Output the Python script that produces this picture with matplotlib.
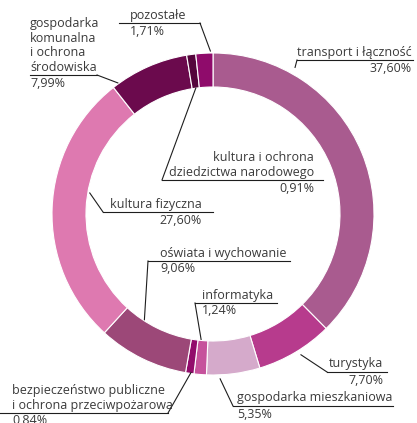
import matplotlib
matplotlib.use('Agg')
import matplotlib.pyplot as plt
import numpy as np

# ---- data ----
categories = [
    'transport i łączność',
    'turystyka',
    'gospodarka mieszkaniowa',
    'informatyka',
    'bezpieczeństwo publiczne\ni ochrona przeciwpożarowa',
    'oświata i wychowanie',
    'kultura fizyczna',
    'gospodarka\nkomunalna\ni ochrona\nśrodowiska',
    'kultura i ochrona\ndziedzictwa narodowego',
    'pozostałe',
]
shares = [37.60, 7.70, 5.35, 1.24, 0.84, 9.06, 27.60, 7.99, 0.91, 1.71]
colors = ['#A95B8F', '#B73B8D', '#D5AACB', '#C6529C', '#920C6C',
          '#9C4878', '#DE79B0', '#6B0A4D', '#55053C', '#8F0B6B']

# ---- layout (pixel coordinates, y from top) ----
# text x, text ha, underline x-range, underline y, leader side, anchor fraction, anchor radius
layout = [
    dict(tx=412, ha='right', ul=(297, 413), uy=60, side='left', f=0.216, r=168),
    dict(tx=383, ha='right', ul=(327, 387), uy=372, side='left', f=0.456, r=166),
    dict(tx=237, ha='left', ul=(233, 393), uy=406, side='left', f=0.75, r=165),
    dict(tx=202, ha='left', ul=(195, 277), uy=303, side='left', f=0.69, r=126),
    dict(tx=12, ha='left', ul=(0, 168), uy=413, side='right', f=0.36, r=160),
    dict(tx=160, ha='left', ul=(148, 290), uy=261, side='left', f=0.71, r=126),
    dict(tx=202, ha='right', ul=(103, 213), uy=212, side='left', f=0.576, r=125),
    dict(tx=30, ha='left', ul=(30, 97), uy=75, side='right', f=0.077, r=162),
    dict(tx=314, ha='right', ul=(162, 323), uy=180, side='left', f=0.5, r=127),
    dict(tx=130, ha='left', ul=(119, 200), uy=23, side='right', f=0.85, r=163),
]

W, H = 417, 423
fig = plt.figure(figsize=(W / 100, H / 100), dpi=100)
ax = fig.add_axes([0, 0, 1, 1])

cx, cy = 213, H - 214
R, ring = 161, 34
wedges, _ = ax.pie(shares, colors=colors, startangle=90, counterclock=False,
                   radius=R, center=(cx, cy), frame=True,
                   wedgeprops=dict(width=ring, edgecolor='white', linewidth=0.8))
ax.set_xlim(0, W)
ax.set_ylim(0, H)
ax.axis('off')

font = dict(family=['Open Sans', 'DejaVu Sans'], fontsize=9, color='#3a3a3a')
lc = '#1e1e1e'

for w, name, val, L in zip(wedges, categories, shares, layout):
    ang = np.deg2rad(w.theta2 - L['f'] * (w.theta2 - w.theta1))
    axp, ayp = cx + L['r'] * np.cos(ang), cy + L['r'] * np.sin(ang)
    uy = H - L['uy']
    x0, x1 = L['ul']
    ax.plot([x0, x1], [uy, uy], color=lc, lw=0.8)
    sx = x0 if L['side'] == 'left' else x1
    ax.plot([sx, axp], [uy, ayp], color=lc, lw=0.8)
    ax.text(L['tx'], uy + 1.5, name, ha=L['ha'], va='bottom',
            linespacing=1.15, multialignment=L['ha'], **font)
    pct = f'{val:.2f}'.replace('.', ',') + '%'
    ax.text(L['tx'], uy - 1.5, pct, ha=L['ha'], va='top', **font)

fig.savefig('out.png', dpi=100)
